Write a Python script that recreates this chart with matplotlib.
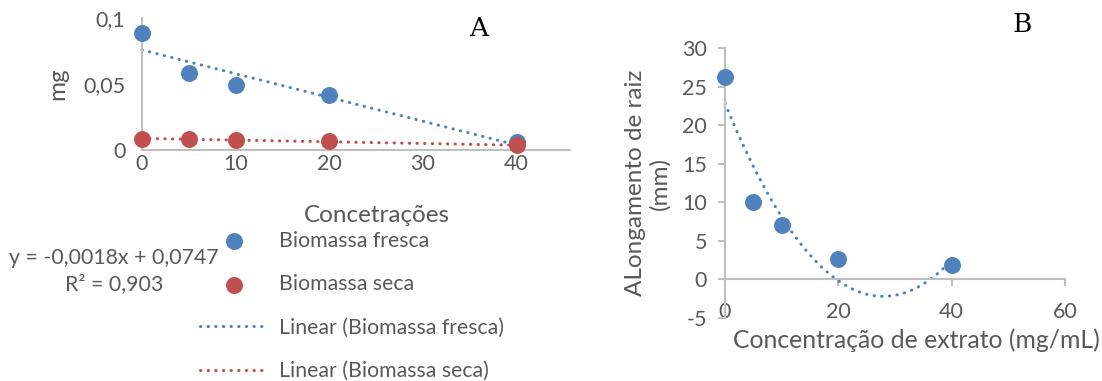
import numpy as np
import matplotlib
matplotlib.use("Agg")
import matplotlib.pyplot as plt

plt.rcParams['font.family'] = ['Lato', 'DejaVu Sans']
plt.rcParams['axes.unicode_minus'] = False

# panel A - biomass (mg) per concentration
conc_a = [0, 5, 10, 20, 40]
fresca = [0.089, 0.058, 0.049, 0.042, 0.006]
seca = [0.0085, 0.0083, 0.0075, 0.0065, 0.0035]
a_ticks = [0, 10, 20, 30, 40]
a_yticks = [0, 0.05, 0.1]
a_ylabels = ['0', '0,05', '0,1']

# panel B - root elongation (mm)
conc_b = [0, 5, 10, 20, 40]
raiz = [26.3, 10.0, 7.0, 2.7, 1.9]
b_xticks = [0, 20, 40, 60]
b_yticks = [-5, 0, 5, 10, 15, 20, 25, 30]

BLUE = '#4f81bd'
RED = '#c0504d'
GRID = '#bfbfbf'
TXT = '#595959'
dots = (0, (0.1, 2.4))

W, H = 1102, 381
fig = plt.figure(figsize=(W / 100, H / 100), dpi=100)

# ---- panel A
axA = fig.add_axes([142 / W, 1 - 150 / H, (570 - 142) / W, 132 / H])
sc1 = axA.scatter(conc_a, fresca, s=125, color=BLUE, zorder=3, clip_on=False, label='Biomassa fresca')
sc2 = axA.scatter(conc_a, seca, s=125, color=RED, zorder=3, clip_on=False, label='Biomassa seca')

xx = np.linspace(0, 40, 100)
p1 = np.polyfit(conc_a, fresca, 1)
p2 = np.polyfit(conc_a, seca, 1)
l1, = axA.plot(xx, np.polyval(p1, xx), color=BLUE, lw=2.2, ls=dots, dash_capstyle='round',
               clip_on=False, label='Linear (Biomassa fresca)')
l2, = axA.plot(xx, np.polyval(p2, xx), color=RED, lw=2.2, ls=dots, dash_capstyle='round',
               clip_on=False, label='Linear (Biomassa seca)')

axA.set_xlim(0, 45.7)
axA.set_ylim(0, 0.1)
axA.set_xticks(a_ticks)
axA.set_yticks(a_yticks)
axA.set_yticklabels(a_ylabels)
for s in ['top', 'right']:
    axA.spines[s].set_visible(False)
for s in ['left', 'bottom']:
    axA.spines[s].set_color(GRID)
    axA.spines[s].set_linewidth(1.5)
axA.tick_params(axis='x', length=0, pad=3, labelsize=15.5, labelcolor=TXT)
axA.tick_params(axis='y', length=0, pad=12, labelsize=15.5, labelcolor=TXT)

fig.text(58 / W, 1 - 84 / H, 'mg', rotation=90, ha='center', va='center', fontsize=17.5, color=TXT)
fig.text(377 / W, 1 - 216 / H, 'Concetrações', ha='center', va='center', fontsize=17.5, color=TXT)
fig.text(114 / W, 1 - 271 / H, 'y = -0,0018x + 0,0747\nR² = 0,903', ha='center', va='center',
         fontsize=15.3, color=TXT, linespacing=1.4)
fig.text(479 / W, 1 - 28 / H, 'A', ha='center', va='center', fontsize=19, family='DejaVu Serif')

fig.legend(handles=[sc1, sc2, l1, l2], loc='upper left', bbox_to_anchor=(200 / W, 1 - 231 / H),
           frameon=False, fontsize=15.3, handlelength=3.2, handletextpad=0.5,
           labelspacing=1.1, borderpad=0, borderaxespad=0, labelcolor=TXT)

# ---- panel B
axB = fig.add_axes([725 / W, 1 - 318 / H, (1065 - 725) / W, 270 / H])
axB.scatter(conc_b, raiz, s=125, color=BLUE, zorder=3, clip_on=False)
pb = np.polyfit(conc_b, raiz, 2)
xb = np.linspace(0, 40, 200)
axB.plot(xb, np.polyval(pb, xb), color=BLUE, lw=2.2, ls=dots, dash_capstyle='round', zorder=2)

axB.set_xlim(0, 60)
axB.set_ylim(-5, 30)
axB.set_xticks(b_xticks)
axB.set_yticks(b_yticks)
for s in ['top', 'right']:
    axB.spines[s].set_visible(False)
axB.spines['bottom'].set_position(('data', 0))
for s in ['left', 'bottom']:
    axB.spines[s].set_color(GRID)
    axB.spines[s].set_linewidth(1.5)
axB.tick_params(axis='x', length=5, width=1.5, color=GRID, pad=11, labelsize=15.5, labelcolor=TXT)
axB.tick_params(axis='y', length=5, width=1.5, color=GRID, pad=8, labelsize=15.5, labelcolor=TXT)

fig.text(648 / W, 1 - 183 / H, 'ALongamento de raiz\n(mm)', rotation=90, ha='center', va='center',
         fontsize=17.5, color=TXT, linespacing=1.15)
fig.text(916 / W, 1 - 340 / H, 'Concentração de extrato (mg/mL)', ha='center', va='center',
         fontsize=17.8, color=TXT)
fig.text(1022 / W, 1 - 25 / H, 'B', ha='center', va='center', fontsize=19, family='DejaVu Serif')

fig.savefig('out.png', dpi=100)
